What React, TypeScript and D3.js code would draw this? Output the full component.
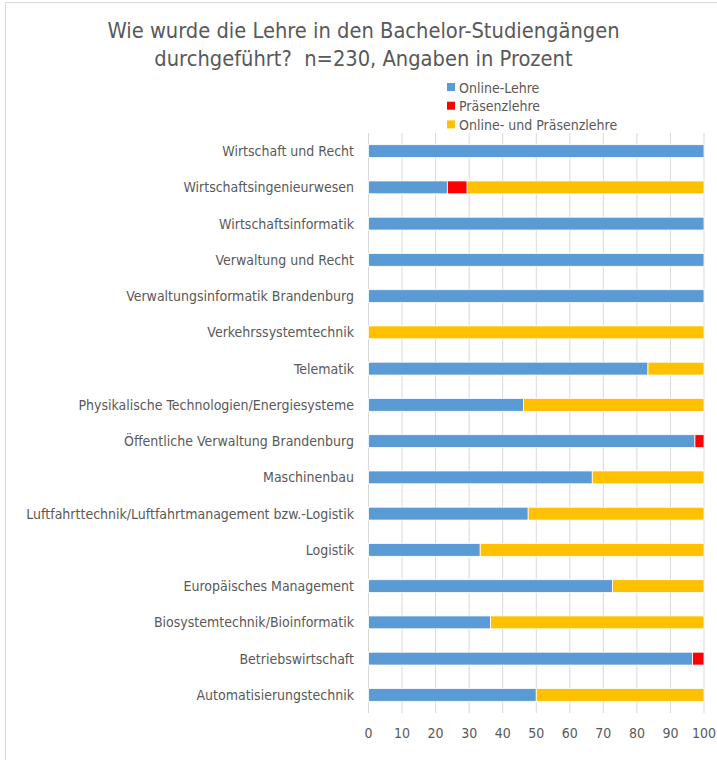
import React from "react";
import * as d3 from "d3";

const categories = [
  "Wirtschaft und Recht",
  "Wirtschaftsingenieurwesen",
  "Wirtschaftsinformatik",
  "Verwaltung und Recht",
  "Verwaltungsinformatik Brandenburg",
  "Verkehrssystemtechnik",
  "Telematik",
  "Physikalische Technologien/Energiesysteme",
  "Öffentliche Verwaltung Brandenburg",
  "Maschinenbau",
  "Luftfahrttechnik/Luftfahrtmanagement bzw.-Logistik",
  "Logistik",
  "Europäisches Management",
  "Biosystemtechnik/Bioinformatik",
  "Betriebswirtschaft",
  "Automatisierungstechnik",
];

const onlineLehre = [100, 23.5, 100, 100, 100, 0, 83.3, 46.2, 97.3, 66.7, 47.6, 33.3, 72.7, 36.4, 96.6, 50];
const praesenzLehre = [0, 5.9, 0, 0, 0, 0, 0, 0, 2.7, 0, 0, 0, 0, 0, 3.4, 0];
const beides = [0, 70.6, 0, 0, 0, 100, 16.7, 53.8, 0, 33.3, 52.4, 66.7, 27.3, 63.6, 0, 50];

const seriesNames = ["Online-Lehre", "Präsenzlehre", "Online- und Präsenzlehre"];
const seriesColors = ["#5B9BD5", "#FF0000", "#FFC000"];
const xTicks = [0, 10, 20, 30, 40, 50, 60, 70, 80, 90, 100];

const W = 717;
const H = 760;
const left = 368.5;
const right = 704;
const top = 133;
const bottom = 713;
const font = "'DejaVu Sans Condensed', 'DejaVu Sans', sans-serif";
const textColor = "#595959";

export default function App() {
  const x = d3.scaleLinear().domain([0, 100]).range([left, right]);
  const y = d3.scaleBand().domain(categories).range([top, bottom]).paddingInner(0.645).paddingOuter(0.3225);

  const rows = categories.map((c, i) => ({
    cat: c,
    v: [onlineLehre[i], praesenzLehre[i], beides[i]],
  }));

  return (
    <svg width={W} height={H} style={{ position: "absolute", left: 0, top: 0, background: "#fff" }}>
      <rect x={5.5} y={2.5} width={W + 10} height={H + 10} fill="#fff" stroke="#d9d9d9" strokeWidth={1} />
      <text x={363.5} y={38} textAnchor="middle" fontFamily={font} fontSize={21.7} fill={textColor}>
        Wie wurde die Lehre in den Bachelor-Studiengängen
      </text>
      <text x={363.5} y={66} textAnchor="middle" fontFamily={font} fontSize={21.7} fill={textColor} style={{ whiteSpace: "pre" }}>
        {"durchgeführt?  n=230, Angaben in Prozent"}
      </text>
      {seriesNames.map((s, i) => (
        <g key={s} transform={`translate(447, ${83 + i * 18.7})`}>
          <rect x={0} y={0} width={8} height={8} fill={seriesColors[i]} />
          <text x={12} y={9.5} fontFamily={font} fontSize={14} fill={textColor}>
            {s}
          </text>
        </g>
      ))}
      {xTicks.map((t) => (
        <g key={t}>
          <line x1={x(t)} x2={x(t)} y1={top} y2={bottom} stroke="#d9d9d9" strokeWidth={1} />
          <text x={x(t)} y={738} textAnchor="middle" fontFamily={font} fontSize={14} fill={textColor}>
            {t}
          </text>
        </g>
      ))}
      {rows.map((r) => {
        let acc = 0;
        const yy = y(r.cat)!;
        return (
          <g key={r.cat}>
            <text
              x={354}
              y={yy + y.bandwidth() / 2 + 5}
              textAnchor="end"
              fontFamily={font}
              fontSize={14}
              fill={textColor}
            >
              {r.cat}
            </text>
            {r.v.map((v, k) => {
              const x0 = acc;
              acc += v;
              if (v <= 0) return null;
              return (
                <rect
                  key={k}
                  x={x(x0)}
                  y={yy}
                  width={x(x0 + v) - x(x0)}
                  height={y.bandwidth()}
                  fill={seriesColors[k]}
                  stroke="#fff"
                  strokeWidth={0.8}
                />
              );
            })}
          </g>
        );
      })}
    </svg>
  );
}
